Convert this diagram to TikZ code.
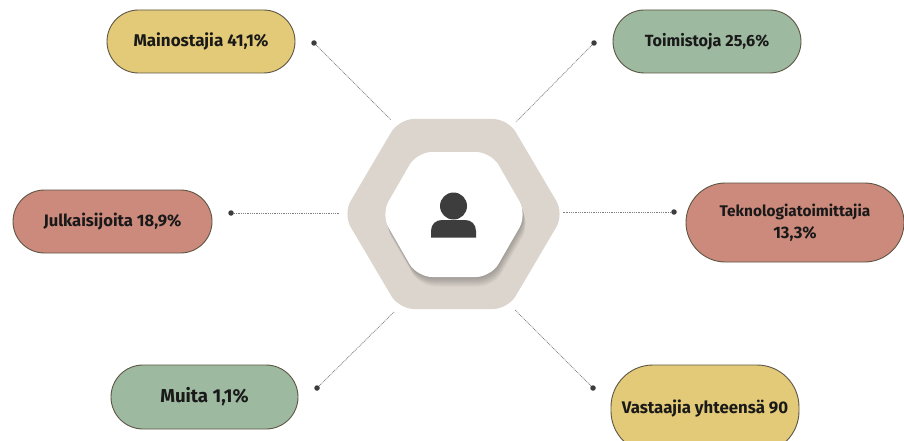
\documentclass[tikz,border=0pt]{standalone}
\usepackage{fontspec}
\setmainfont{Fira Sans}
\definecolor{pillyellow}{HTML}{E3CA78}
\definecolor{pillgreen}{HTML}{9DB9A0}
\definecolor{pillred}{HTML}{CC8A7C}
\definecolor{pillline}{HTML}{5E5645}
\definecolor{hexouter}{HTML}{DCD5CE}
\definecolor{icondark}{HTML}{3D3D3D}
\definecolor{linkgrey}{HTML}{808080}
\tikzset{
  pill/.style={draw=pillline,line width=0.9pt,align=center,inner sep=0pt,
    font=\fontsize{16.6}{22}\selectfont\bfseries,text=black!90},
  enddot/.style={circle,fill=icondark,minimum size=5.5pt,inner sep=0pt},
  link/.style={draw=linkgrey,line width=0.7pt,dash pattern=on 1pt off 0.8pt},
}
\newcommand{\outerhex}{(343,214) -- (399,119) -- (508,119) -- (564,214) -- (508,309) -- (399,309) -- cycle}
\newcommand{\innerhex}{(381,214.5) -- (417,152) -- (491,152) -- (527,214.5) -- (491,277) -- (417,277) -- cycle}
\begin{document}
\begin{tikzpicture}[x=1pt,y=-1pt]
\useasboundingbox (0,0) rectangle (904,441);
\clip (0,0) rectangle (904,441);
\fill[white] (0,0) rectangle (904,441);
% hexagons
\fill[hexouter,rounded corners=15pt] \outerhex;
\foreach \d in {1,2,...,10}{
  \fill[black,opacity=0.028,rounded corners=15pt,shift={(0.3*\d,0.95*\d)}] \innerhex;
}
\fill[white,rounded corners=15pt] \innerhex;
% person icon
\fill[icondark] (453.5,206) circle (13.5);
\fill[icondark] (431,237.5) -- (431,231) .. controls (431,224) and (436,220) .. (442,220) -- (465,220) .. controls (471,220) and (476,224) .. (476,231) -- (476,237.5) -- cycle;
% pills
\node[pill,fill=pillyellow,minimum width=188pt,minimum height=63pt,rounded corners=31.5pt] (mainos) at (201,41.5) {\fontsize{17}{22}\selectfont Mainostajia 41,1\%};
\node[pill,fill=pillgreen,minimum width=188pt,minimum height=63pt,rounded corners=31.5pt] (toimisto) at (707,41.5) {\fontsize{16.2}{22}\selectfont Toimistoja 25,6\%};
\node[pill,fill=pillred,minimum width=199pt,minimum height=63pt,rounded corners=31.5pt] (julkaisu) at (112.5,221.5) {Julkaisijoita 18,9\%};
\node[pill,fill=pillred,minimum width=218pt,minimum height=79pt,rounded corners=39.5pt] (tekno) at (795,222.5) {\fontsize{15.4}{21}\selectfont Teknologiatoimittajia\\13,3\%};
\node[pill,fill=pillgreen,minimum width=187pt,minimum height=64pt,rounded corners=32pt] (muita) at (204.5,397) {\fontsize{18.7}{22}\selectfont Muita 1,1\%};
\node[pill,fill=pillyellow,minimum width=188pt,minimum height=88pt,rounded corners=42pt] (vastaajat) at (705,409) {\fontsize{16.8}{22}\selectfont Vastaajia yhteensä 90};
% dots
\node[enddot] (d1) at (314,43) {};
\node[enddot] (d2) at (594,43) {};
\node[enddot] (d3) at (231,213) {};
\node[enddot] (d4) at (674,212) {};
\node[enddot] (d5) at (317,388) {};
\node[enddot] (d6) at (593,388) {};
% free ends at the hexagon
\coordinate (e1) at (391,120);
\coordinate (e2) at (516,122);
\coordinate (e3) at (340,213);
\coordinate (e4) at (563,212);
\coordinate (e5) at (394,312);
\coordinate (e6) at (515,310);
\foreach \a/\b in {d1/e1,d2/e2,d3/e3,d4/e4,d5/e5,d6/e6}{
  \draw[link] (\a) -- (\b);
}
\end{tikzpicture}
\end{document}
